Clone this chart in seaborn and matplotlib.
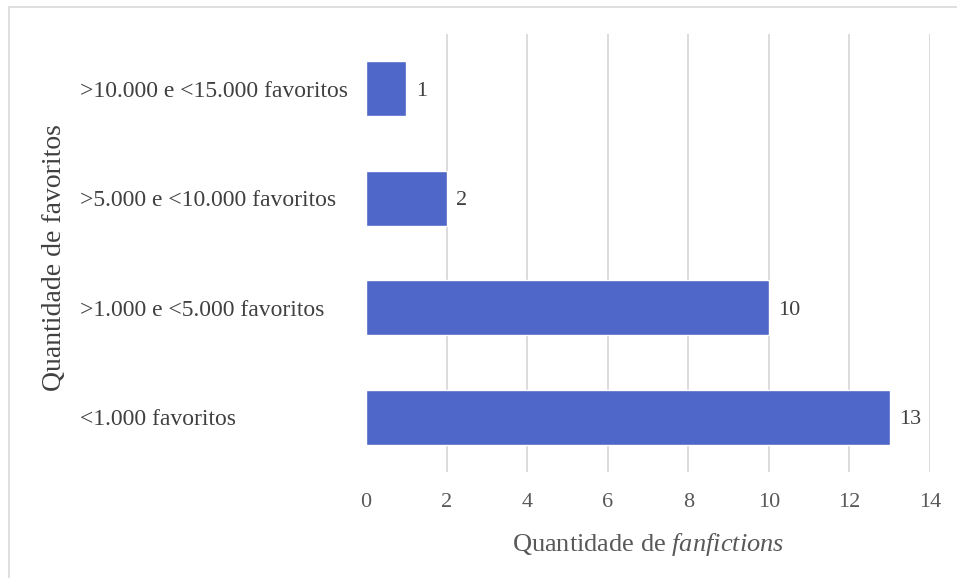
import matplotlib
matplotlib.use("Agg")
import matplotlib.pyplot as plt
import seaborn as sns
import pandas as pd

categorias = [
    ">10.000 e <15.000 favoritos",
    ">5.000 e <10.000 favoritos",
    ">1.000 e <5.000 favoritos",
    "<1.000 favoritos",
]
quantidades = [1, 2, 10, 13]
marcas_x = [0, 2, 4, 6, 8, 10, 12, 14]

df = pd.DataFrame({"categoria": categorias, "quantidade": quantidades})

sns.set_theme(style="white")
plt.rcParams["font.family"] = ["Liberation Serif", "DejaVu Serif"]
plt.rcParams["mathtext.fontset"] = "custom"
plt.rcParams["mathtext.rm"] = "Liberation Serif"
plt.rcParams["mathtext.it"] = "Liberation Serif:italic"

cor_barra = "#4f67c8"
cor_texto = "#595959"
cor_rotulo = "#404040"

fig = plt.figure(figsize=(9.57, 5.78), dpi=100)
ax = fig.add_axes([366 / 957, 1 - 472 / 578, 564 / 957, 438 / 578])

sns.barplot(data=df, y="categoria", x="quantidade", orient="h",
            color=cor_barra, saturation=1, width=0.5, ax=ax, zorder=3)

ax.set_xlim(0, 14)
ax.set_ylim(3.5, -0.5)
ax.set_xticks(marcas_x)
ax.set_xticklabels([str(v) for v in marcas_x])

# vertical gridlines (skipping the one at zero)
for v in marcas_x[1:]:
    ax.axvline(v, color="#d9d9d9", lw=1.3, zorder=1)

for s in ax.spines.values():
    s.set_visible(False)

ax.tick_params(axis="x", length=0, pad=15, labelsize=16, labelcolor=cor_texto)
ax.tick_params(axis="y", length=0, pad=206, labelsize=17, labelcolor=cor_rotulo)
for t in ax.get_yticklabels():
    t.set_ha("left")

# value labels beside each bar
for i, v in enumerate(quantidades):
    ax.annotate(str(v), (v, i), xytext=(7, 0), textcoords="offset points",
                ha="left", va="center_baseline", fontsize=16, color=cor_rotulo)

ax.set_xlabel(r"Quantidade de $\mathit{fanfictions}$", fontsize=19,
              color=cor_texto, labelpad=14)
ax.set_ylabel("Quantidade de favoritos", fontsize=20, color=cor_rotulo)
ax.yaxis.set_label_coords((67 - 366) / 564, 0.49)

# light frame around the whole chart
fig.patches.append(plt.Rectangle((9 / 957, -0.01), 2, 1 - 7 / 578 + 0.01,
                                 transform=fig.transFigure, fill=False,
                                 edgecolor="#d9d9d9", lw=1.2))

fig.savefig("out.png", dpi=100)
